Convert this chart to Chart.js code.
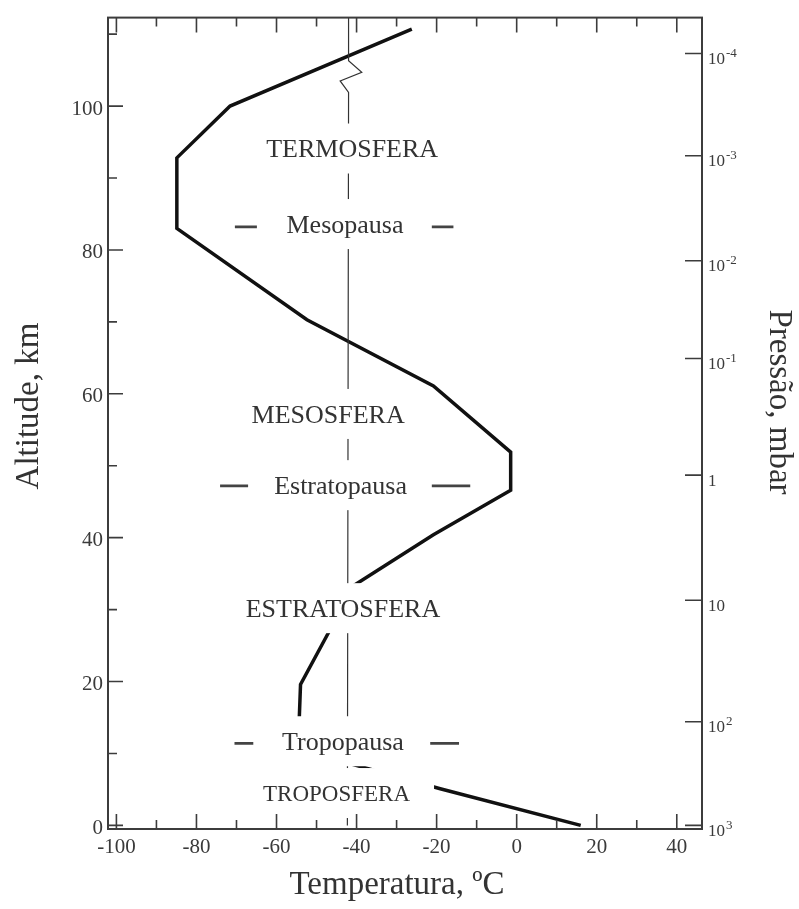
<!DOCTYPE html>
<html><head><meta charset="utf-8">
<script src="https://cdn.jsdelivr.net/npm/chart.js@4.4.1/dist/chart.umd.min.js"></script>
<style>html,body{margin:0;padding:0;background:#fff;} canvas{display:block;}</style>
</head><body>
<canvas id="c" width="799" height="909"></canvas>
<script>
// ---------------- data ----------------
const profileTemp = [16, -19.1, -54.6, -54.0, -47.5, -40.6, -20.8, -1.5, -1.5, -20.8, -52.4, -84.9, -84.9, -71.6, -26.2];
const profileAlt  = [0, 5.1, 10.6, 19.6, 26.3, 33.4, 40.4, 46.6, 51.9, 61.1, 70.3, 83.0, 92.8, 100.0, 110.7];

const refLineTemp = [-42.3, -42.0, -44.1, -38.7, -42.0, -42.0];
const refLineAlt  = [0, 101.9, 103.5, 104.7, 106.3, 112.3];

const pauseAlt       = [83.2, 47.2, 11.4];
const pauseLeftDash  = [[-70.4, -64.9], [-74.1, -67.1], [-70.5, -65.8]];
const pauseRightDash = [[-21.2, -15.8], [-21.2, -11.6], [-21.6, -14.4]];

const regionLabels    = ['TERMOSFERA', 'Mesopausa', 'MESOSFERA', 'Estratopausa', 'ESTRATOSFERA', 'Tropopausa', 'TROPOSFERA'];
const regionLabelTemp = [-41.1, -42.9, -47.1, -44.0, -43.4, -43.4, -45.0];
const regionLabelAlt  = [94.1, 83.6, 57.2, 47.3, 30.2, 11.7, 4.5];

const tempTicks      = [-100, -80, -60, -40, -20, 0, 20, 40];
const tempMinorTicks = [-90, -70, -50, -30, -10, 10, 30];
const altTicks       = [0, 20, 40, 60, 80, 100];
const altMinorTicks  = [10, 30, 50, 70, 90, 110];

const pressureExp = [3, 2, 1, 0, -1, -2, -3, -4];
const pressureAlt = [0, 14.4, 31.3, 48.7, 64.9, 78.5, 93.1, 107.3];

const xTitle = 'Temperatura, ºC';
const yTitle = 'Altitude, km';
const y2Title = 'Pressão, mbar';

// ---------------- build datasets ----------------
const pts = (xs, ys) => xs.map((v, i) => ({x: v, y: ys[i]}));
const pauseData = pauseAlt.map((a, i) => [
  {x: pauseLeftDash[i][0], y: a}, {x: pauseLeftDash[i][1], y: a},
  {x: (pauseLeftDash[i][1] + pauseRightDash[i][0]) / 2, y: null},
  {x: pauseRightDash[i][0], y: a}, {x: pauseRightDash[i][1], y: a}
]);

const SERIF = '"Liberation Serif", "Times New Roman", serif';
const TXT = '#333333';

const overlay = {
  id: 'overlay',
  afterDatasetsDraw(chart) {
    const {ctx, scales: {x, y}} = chart;
    ctx.save();
    regionLabels.forEach((t, i) => {
      const size = (t === 'TROPOSFERA') ? 23 : 26;
      ctx.font = size + 'px ' + SERIF;
      const w = ctx.measureText(t).width;
      const cx = x.getPixelForValue(regionLabelTemp[i]);
      const cy = y.getPixelForValue(regionLabelAlt[i]);
      const padX = 24, boxH = 50;
      ctx.fillStyle = '#ffffff';
      ctx.fillRect(cx - w / 2 - padX, cy - boxH / 2, w + 2 * padX, boxH);
      ctx.fillStyle = TXT;
      ctx.textAlign = 'center';
      ctx.textBaseline = 'alphabetic';
      ctx.fillText(t, cx, cy + size * 0.33);
    });
    ctx.restore();
  },
  afterDraw(chart) {
    const {ctx, chartArea: a, scales: {x, y}} = chart;
    ctx.save();
    // inner tick marks
    ctx.strokeStyle = '#3c3c3c';
    ctx.lineWidth = 1.6;
    ctx.beginPath();
    const seg = (x1, y1, x2, y2) => { ctx.moveTo(x1, y1); ctx.lineTo(x2, y2); };
    tempTicks.forEach(v => { const px = x.getPixelForValue(v); seg(px, a.bottom, px, a.bottom - 15); seg(px, a.top, px, a.top + 15); });
    tempMinorTicks.forEach(v => { const px = x.getPixelForValue(v); seg(px, a.bottom, px, a.bottom - 9); seg(px, a.top, px, a.top + 9); });
    altTicks.forEach(v => { const py = y.getPixelForValue(v); seg(a.left, py, a.left + 15, py); });
    altMinorTicks.forEach(v => { const py = y.getPixelForValue(v); seg(a.left, py, a.left + 9, py); });
    pressureAlt.forEach(v => { const py = y.getPixelForValue(v); seg(a.right, py, a.right - 17, py); });
    ctx.stroke();
    // frame
    ctx.lineWidth = 2;
    ctx.strokeRect(a.left, a.top, a.right - a.left, a.bottom - a.top);
    // pressure labels
    ctx.fillStyle = '#3a3a3a';
    ctx.textAlign = 'left';
    ctx.textBaseline = 'alphabetic';
    pressureExp.forEach((e, i) => {
      const py = y.getPixelForValue(pressureAlt[i]);
      const bx = a.right + 6;
      const base = e === 0 ? '1' : '10';
      ctx.font = '17px ' + SERIF;
      ctx.fillText(base, bx, py + 10.5);
      if (e !== 0 && e !== 1) {
        const bw = ctx.measureText(base).width;
        ctx.font = '13px ' + SERIF;
        ctx.fillText(String(e), bx + bw + 1, py + 3.5);
      }
    });
    // axis titles
    ctx.fillStyle = TXT;
    ctx.font = '33px ' + SERIF;
    ctx.textAlign = 'center';
    ctx.textBaseline = 'middle';
    ctx.fillText(xTitle, (a.left + a.right) / 2 - 8, 885);
    ctx.save();
    ctx.translate(29, 406);
    ctx.rotate(-Math.PI / 2);
    ctx.fillText(yTitle, 0, 0);
    ctx.restore();
    ctx.save();
    ctx.translate(779, 402);
    ctx.rotate(Math.PI / 2);
    ctx.fillText(y2Title, 0, 0);
    ctx.restore();
    ctx.restore();
  }
};

new Chart(document.getElementById('c'), {
  type: 'scatter',
  data: {
    datasets: [
      {data: pts(refLineTemp, refLineAlt), showLine: true, borderColor: '#333333', borderWidth: 1.2, pointRadius: 0, tension: 0},
      ...pauseData.map(d => ({data: d, showLine: true, spanGaps: false, borderColor: '#444444', borderWidth: 2.8, pointRadius: 0, tension: 0})),
      {data: pts(profileTemp, profileAlt), showLine: true, borderColor: '#111111', borderWidth: 3.5, pointRadius: 0, tension: 0, borderJoinStyle: 'miter'}
    ]
  },
  options: {
    responsive: false,
    devicePixelRatio: 1,
    animation: false,
    events: [],
    layout: {padding: {top: 13, right: 97, left: 0, bottom: 0}},
    plugins: {legend: {display: false}, tooltip: {enabled: false}},
    scales: {
      x: {
        type: 'linear', position: 'bottom', min: -102.1, max: 46.3,
        grid: {display: false, drawTicks: false}, border: {display: false},
        afterBuildTicks: s => { s.ticks = tempTicks.map(v => ({value: v})); },
        afterFit: s => { s.height = 80; },
        ticks: {color: '#3a3a3a', font: {family: SERIF, size: 21}, padding: 6, maxRotation: 0, autoSkip: false}
      },
      y: {
        type: 'linear', position: 'left', min: -0.5, max: 112.3,
        grid: {display: false, drawTicks: false}, border: {display: false},
        afterBuildTicks: s => { s.ticks = altTicks.map(v => ({value: v})); },
        afterFit: s => { s.width = 108; },
        ticks: {color: '#3a3a3a', font: {family: SERIF, size: 21}, padding: 5, labelOffset: 3, autoSkip: false}
      }
    }
  },
  plugins: [overlay]
});
</script>
</body></html>
